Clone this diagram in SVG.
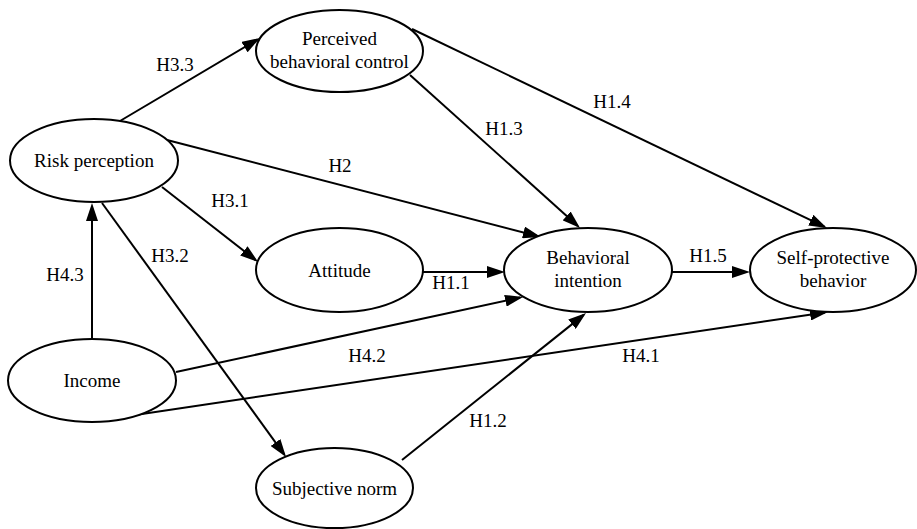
<svg xmlns="http://www.w3.org/2000/svg" width="917" height="529" viewBox="0 0 917 529">
<style>
.n ellipse{fill:#fff;stroke:#000;stroke-width:2}
text{font-size:19px;fill:#000;text-anchor:middle}
.e line{stroke:#000;stroke-width:2;marker-end:url(#ah)}
</style>
<defs>
<marker id="ah" markerUnits="userSpaceOnUse" markerWidth="18" markerHeight="12" refX="15" refY="6" orient="auto">
<path d="M0,0 L18,6 L0,12 z" fill="#000"/>
</marker>
</defs>
<rect width="917" height="529" fill="#fff"/>
<g font-family="Liberation Serif, Times New Roman, Times, serif">
<g class="e" id="connectors">
<line x1="120" y1="121" x2="257.4" y2="39.5"/>
<line x1="167" y1="140" x2="538" y2="236.2"/>
<line x1="162" y1="187" x2="255.7" y2="260.1"/>
<line x1="102" y1="203" x2="284.3" y2="454.6"/>
<line x1="92" y1="339" x2="92" y2="206"/>
<line x1="410" y1="75" x2="577.8" y2="226"/>
<line x1="412" y1="29" x2="824.3" y2="226.7"/>
<line x1="423" y1="272" x2="502" y2="272"/>
<line x1="672" y1="272" x2="747" y2="272"/>
<line x1="176" y1="372" x2="520.1" y2="297.6"/>
<line x1="95" y1="421" x2="825" y2="312.4"/>
<line x1="402" y1="460" x2="583.7" y2="314.9"/>
<text x="175" y="71">H3.3</text>
<text x="340" y="172">H2</text>
<text x="230" y="207">H3.1</text>
<text x="170" y="262">H3.2</text>
<text x="65" y="281">H4.3</text>
<text x="451" y="289">H1.1</text>
<text x="367" y="362">H4.2</text>
<text x="641" y="362">H4.1</text>
<text x="488" y="427">H1.2</text>
<text x="504" y="135">H1.3</text>
<text x="612" y="108">H1.4</text>
<text x="708" y="262">H1.5</text>
</g>
<g class="n" id="pbc"><ellipse cx="339.5" cy="51" rx="83.5" ry="41"/><text x="339.5" y="45">Perceived</text><text x="339.5" y="68">behavioral control</text></g>
<g class="n" id="risk"><ellipse cx="94" cy="160.5" rx="84" ry="41.5"/><text x="94" y="167">Risk perception</text></g>
<g class="n" id="attitude"><ellipse cx="339.5" cy="270" rx="83.5" ry="42"/><text x="339.5" y="277">Attitude</text></g>
<g class="n" id="income"><ellipse cx="92" cy="380.5" rx="84" ry="41.5"/><text x="92" y="387">Income</text></g>
<g class="n" id="sn"><ellipse cx="334.5" cy="488" rx="78.5" ry="40"/><text x="334.5" y="495">Subjective norm</text></g>
<g class="n" id="bi"><ellipse cx="588" cy="270" rx="84" ry="42"/><text x="588" y="264">Behavioral</text><text x="588" y="287">intention</text></g>
<g class="n" id="spb"><ellipse cx="833" cy="270" rx="83" ry="42"/><text x="833" y="264">Self-protective</text><text x="833" y="287">behavior</text></g>
</g>
</svg>
